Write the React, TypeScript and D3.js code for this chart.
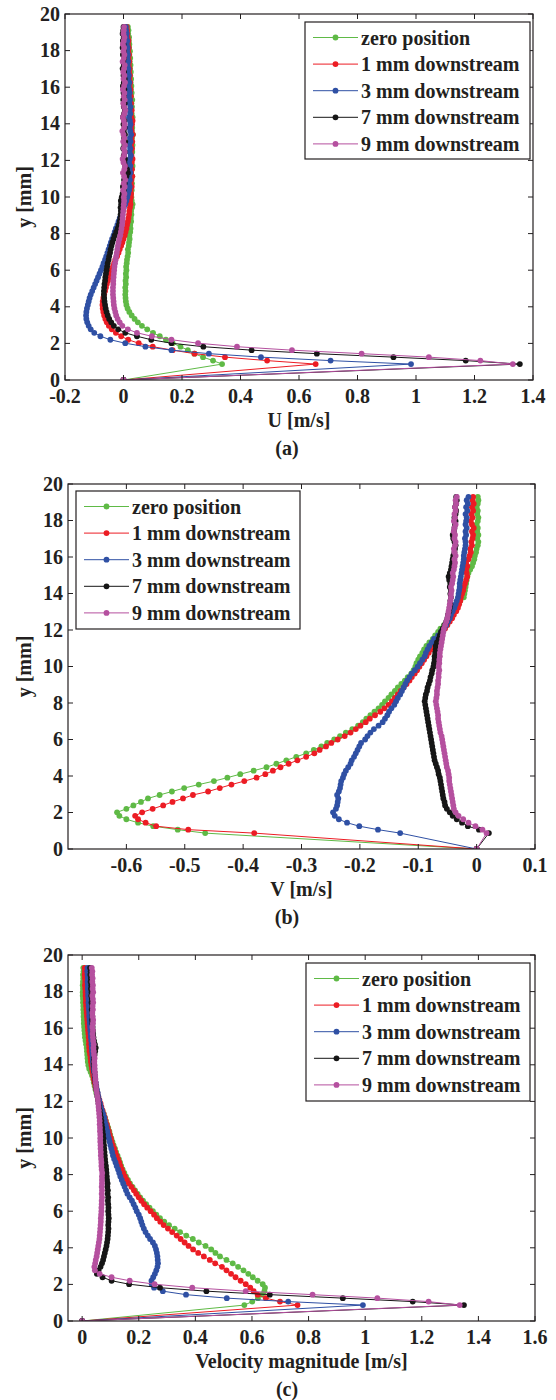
import * as d3 from "d3";

// wall-normal positions (mm), shared by every profile
const Y_MM = [0,
  0.87, 1.06, 1.25, 1.44, 1.63, 1.82, 2.01, 2.2, 2.39, 2.58,
  2.77, 2.96, 3.15, 3.34, 3.53, 3.72, 3.91, 4.1, 4.29, 4.48,
  4.67, 4.86, 5.05, 5.24, 5.43, 5.62, 5.81, 6.0, 6.19, 6.38,
  6.57, 6.76, 6.95, 7.14, 7.33, 7.52, 7.71, 7.9, 8.09, 8.28,
  8.47, 8.66, 8.85, 9.04, 9.23, 9.42, 9.61, 9.8, 9.99, 10.18,
  10.37, 10.56, 10.75, 10.94, 11.13, 11.32, 11.51, 11.7, 11.89, 12.08,
  12.27, 12.46, 12.65, 12.84, 13.03, 13.22, 13.41, 13.6, 13.79, 13.98,
  14.17, 14.36, 14.55, 14.74, 14.93, 15.12, 15.31, 15.5, 15.69, 15.88,
  16.07, 16.26, 16.45, 16.64, 16.83, 17.02, 17.21, 17.4, 17.59, 17.78,
  17.97, 18.16, 18.35, 18.54, 18.73, 18.92, 19.11, 19.3];

const SERIES_NAMES = ["zero position", "1 mm downstream", "3 mm downstream", "7 mm downstream", "9 mm downstream"];
const COLORS = ["#5fba46", "#ec1c24", "#2f50a4", "#161616", "#b5509f"];

const U_TICKS = [-0.2, 0, 0.2, 0.4, 0.6, 0.8, 1, 1.2, 1.4];
const V_TICKS = [-0.6, -0.5, -0.4, -0.3, -0.2, -0.1, 0, 0.1];
const MAG_TICKS = [0, 0.2, 0.4, 0.6, 0.8, 1, 1.2, 1.4, 1.6];
const Y_TICKS = [0, 2, 4, 6, 8, 10, 12, 14, 16, 18, 20];

// (a) U [m/s]
const U_ZERO = [0,
  0.337, 0.306, 0.272, 0.242, 0.220, 0.195, 0.168, 0.145, 0.124, 0.101,
  0.081, 0.063, 0.049, 0.038, 0.028, 0.020, 0.014, 0.010, 0.008, 0.007,
  0.006, 0.007, 0.006, 0.008, 0.007, 0.009, 0.008, 0.010, 0.009, 0.011,
  0.012, 0.014, 0.016, 0.015, 0.018, 0.019, 0.021, 0.020, 0.023, 0.024,
  0.023, 0.026, 0.025, 0.027, 0.026, 0.029, 0.031, 0.028, 0.027,
  0.026, 0.028, 0.025, 0.029, 0.027, 0.030, 0.026, 0.028, 0.031, 0.027,
  0.029, 0.026, 0.030, 0.028, 0.031, 0.027, 0.029, 0.032, 0.028, 0.030,
  0.027, 0.029, 0.031, 0.028, 0.026, 0.029, 0.027, 0.030, 0.026, 0.028,
  0.025, 0.027, 0.024, 0.026, 0.023, 0.025, 0.022, 0.024, 0.021, 0.023,
  0.020, 0.022, 0.019, 0.020, 0.018, 0.019, 0.016, 0.017, 0.015];
const U_1MM = [0,
  0.657, 0.491, 0.347, 0.243, 0.168, 0.100, 0.052, 0.016, -0.008, -0.026,
  -0.040, -0.050, -0.057, -0.062, -0.066, -0.069, -0.071, -0.072, -0.071, -0.069,
  -0.066, -0.063, -0.060, -0.057, -0.053, -0.049, -0.045, -0.041, -0.036, -0.032,
  -0.028, -0.022, -0.017, -0.013, -0.008, -0.004, 0.000, 0.004, 0.007, 0.010,
  0.012, 0.015, 0.017, 0.019, 0.020, 0.022, 0.024, 0.023, 0.025,
  0.026, 0.024, 0.028, 0.025, 0.027, 0.030, 0.026, 0.029, 0.025, 0.028,
  0.031, 0.027, 0.025, 0.029, 0.026, 0.030, 0.027, 0.032, 0.028, 0.026,
  0.029, 0.031, 0.027, 0.025, 0.028, 0.024, 0.026, 0.023, 0.025, 0.022,
  0.024, 0.021, 0.023, 0.020, 0.022, 0.019, 0.021, 0.018, 0.020, 0.017,
  0.019, 0.016, 0.018, 0.015, 0.017, 0.014, 0.013, 0.012, 0.011];
const U_3MM = [0,
  0.983, 0.708, 0.470, 0.292, 0.164, 0.075, 0.006, -0.045, -0.079, -0.100,
  -0.112, -0.119, -0.124, -0.127, -0.128, -0.127, -0.125, -0.122, -0.119, -0.116,
  -0.112, -0.107, -0.102, -0.097, -0.092, -0.087, -0.082, -0.077, -0.072, -0.068,
  -0.063, -0.059, -0.055, -0.051, -0.047, -0.043, -0.039, -0.034, -0.030, -0.026,
  -0.021, -0.017, -0.013, -0.008, -0.004, 0.001, 0.006, 0.010, 0.013,
  0.016, 0.019, 0.021, 0.018, 0.022, 0.020, 0.024, 0.021, 0.023, 0.019,
  0.022, 0.025, 0.021, 0.023, 0.020, 0.024, 0.022, 0.026, 0.023, 0.021,
  0.024, 0.022, 0.019, 0.023, 0.021, 0.024, 0.020, 0.022, 0.018, 0.021,
  0.019, 0.017, 0.020, 0.016, 0.018, 0.015, 0.017, 0.014, 0.016, 0.013,
  0.015, 0.012, 0.014, 0.011, 0.013, 0.010, 0.011, 0.009, 0.008];
const U_7MM = [0,
  1.355, 1.170, 0.923, 0.661, 0.438, 0.273, 0.164, 0.095, 0.046, 0.006,
  -0.018, -0.033, -0.042, -0.049, -0.054, -0.058, -0.061, -0.063, -0.065, -0.066,
  -0.067, -0.067, -0.066, -0.065, -0.063, -0.062, -0.060, -0.058, -0.056, -0.054,
  -0.051, -0.049, -0.046, -0.044, -0.041, -0.038, -0.034, -0.030, -0.025, -0.020,
  -0.016, -0.013, -0.011, -0.010, -0.009, -0.010, -0.008, -0.009, -0.006,
  -0.003, 0.001, -0.002, 0.004, 0.002, 0.010, 0.015, 0.012, 0.006, 0.003,
  0.005, 0.001, 0.004, -0.001, 0.003, 0.006, 0.002, 0.005, 0.001, 0.004,
  0.000, 0.003, -0.002, 0.002, 0.005, 0.001, 0.004, -0.001, 0.002, 0.000,
  0.003, -0.002, 0.001, 0.004, 0.000, 0.002, -0.003, 0.001, -0.001, 0.002,
  -0.002, 0.001, -0.003, 0.000, -0.002, 0.001, -0.003, -0.001, 0.000];
const U_9MM = [0,
  1.331, 1.220, 1.044, 0.814, 0.576, 0.388, 0.255, 0.164, 0.097, 0.046,
  0.015, -0.004, -0.013, -0.020, -0.025, -0.028, -0.031, -0.033, -0.034, -0.035,
  -0.036, -0.036, -0.036, -0.035, -0.035, -0.034, -0.033, -0.032, -0.031, -0.029,
  -0.027, -0.025, -0.023, -0.021, -0.019, -0.017, -0.014, -0.011, -0.009, -0.007,
  -0.005, -0.004, -0.003, -0.002, -0.001, 0.000, 0.001, 0.002, 0.001,
  0.003, -0.001, 0.004, 0.001, 0.006, 0.002, -0.002, 0.003, 0.005, 0.000,
  -0.003, 0.002, 0.004, 0.001, 0.005, -0.001, 0.003, 0.000, -0.004, 0.002,
  0.004, 0.001, -0.002, 0.003, 0.006, 0.002, -0.001, 0.004, 0.001, 0.003,
  -0.002, 0.002, 0.005, 0.000, 0.003, -0.001, 0.002, 0.004, -0.003, 0.001,
  0.003, 0.000, 0.002, -0.002, 0.001, 0.003, 0.000, 0.001, 0.002];

// (b) V [m/s]
const V_ZERO = [0,
  -0.465, -0.512, -0.554, -0.580, -0.600, -0.612, -0.616, -0.600, -0.588, -0.575,
  -0.563, -0.543, -0.522, -0.501, -0.476, -0.450, -0.427, -0.405, -0.382, -0.360,
  -0.343, -0.326, -0.309, -0.292, -0.279, -0.266, -0.256, -0.244, -0.234, -0.224,
  -0.213, -0.203, -0.195, -0.189, -0.182, -0.175, -0.168, -0.162, -0.157, -0.151,
  -0.146, -0.140, -0.135, -0.129, -0.123, -0.118, -0.112, -0.108, -0.105, -0.103,
  -0.100, -0.097, -0.093, -0.090, -0.086, -0.081, -0.075, -0.071, -0.066, -0.062,
  -0.056, -0.048, -0.045, -0.042, -0.040, -0.038, -0.034, -0.028, -0.022, -0.021,
  -0.020, -0.019, -0.018, -0.017, -0.016, -0.014, -0.011, -0.008, -0.006, -0.004,
  -0.003, -0.001, 0.000, 0.002, 0.003, 0.001, 0.003, 0.001, 0.002, 0.000,
  0.002, 0.003, 0.001, 0.002, 0.000, 0.002, 0.003, 0.002];
const V_1MM = [0,
  -0.381, -0.494, -0.549, -0.567, -0.580, -0.585, -0.573, -0.555, -0.537, -0.521,
  -0.503, -0.486, -0.460, -0.440, -0.420, -0.398, -0.377, -0.362, -0.349, -0.336,
  -0.322, -0.307, -0.292, -0.278, -0.269, -0.258, -0.249, -0.238, -0.226, -0.216,
  -0.207, -0.199, -0.190, -0.183, -0.174, -0.165, -0.158, -0.151, -0.145, -0.140,
  -0.135, -0.130, -0.125, -0.120, -0.115, -0.111, -0.106, -0.102, -0.098, -0.094,
  -0.090, -0.086, -0.082, -0.078, -0.075, -0.071, -0.067, -0.063, -0.059, -0.054,
  -0.050, -0.046, -0.042, -0.039, -0.035, -0.032, -0.030, -0.028, -0.027, -0.025,
  -0.023, -0.022, -0.020, -0.018, -0.016, -0.017, -0.018, -0.016, -0.018, -0.014,
  -0.012, -0.010, -0.011, -0.008, -0.009, -0.007, -0.006, -0.008, -0.005, -0.008,
  -0.010, -0.007, -0.009, -0.006, -0.008, -0.005, -0.007, -0.006];
const V_3MM = [0,
  -0.131, -0.169, -0.201, -0.222, -0.236, -0.243, -0.246, -0.241, -0.239, -0.238,
  -0.237, -0.239, -0.236, -0.234, -0.233, -0.232, -0.229, -0.227, -0.224, -0.220,
  -0.216, -0.214, -0.210, -0.207, -0.204, -0.201, -0.198, -0.191, -0.187, -0.182,
  -0.176, -0.168, -0.161, -0.157, -0.153, -0.150, -0.146, -0.141, -0.138, -0.135,
  -0.131, -0.128, -0.125, -0.122, -0.119, -0.115, -0.111, -0.106, -0.101, -0.097,
  -0.093, -0.089, -0.087, -0.084, -0.081, -0.077, -0.073, -0.066, -0.061, -0.056,
  -0.052, -0.049, -0.046, -0.044, -0.041, -0.038, -0.036, -0.034, -0.032, -0.031,
  -0.030, -0.029, -0.029, -0.028, -0.027, -0.026, -0.025, -0.024, -0.023, -0.022,
  -0.022, -0.021, -0.020, -0.019, -0.019, -0.020, -0.018, -0.019, -0.017, -0.019,
  -0.018, -0.017, -0.019, -0.016, -0.018, -0.015, -0.017, -0.014];
const V_7MM = [0,
  0.021, 0.004, -0.015, -0.025, -0.034, -0.041, -0.046, -0.051, -0.054, -0.055,
  -0.057, -0.058, -0.059, -0.060, -0.061, -0.062, -0.063, -0.065, -0.066, -0.068,
  -0.070, -0.072, -0.073, -0.074, -0.075, -0.076, -0.077, -0.078, -0.079, -0.080,
  -0.081, -0.082, -0.083, -0.084, -0.085, -0.086, -0.087, -0.088, -0.089, -0.088,
  -0.087, -0.085, -0.084, -0.082, -0.080, -0.079, -0.077, -0.076, -0.074, -0.073,
  -0.072, -0.072, -0.071, -0.070, -0.070, -0.068, -0.065, -0.063, -0.061, -0.058,
  -0.055, -0.052, -0.050, -0.049, -0.047, -0.046, -0.045, -0.045, -0.044, -0.045,
  -0.044, -0.046, -0.045, -0.047, -0.048, -0.046, -0.044, -0.043, -0.042, -0.041,
  -0.040, -0.038, -0.037, -0.036, -0.038, -0.040, -0.041, -0.039, -0.038, -0.037,
  -0.036, -0.038, -0.036, -0.035, -0.037, -0.035, -0.034, -0.035];
const V_9MM = [0,
  0.017, 0.010, -0.002, -0.014, -0.023, -0.031, -0.036, -0.039, -0.040, -0.041,
  -0.042, -0.043, -0.044, -0.045, -0.046, -0.047, -0.047, -0.048, -0.049, -0.051,
  -0.052, -0.053, -0.054, -0.055, -0.056, -0.057, -0.058, -0.059, -0.060, -0.062,
  -0.063, -0.064, -0.065, -0.066, -0.066, -0.067, -0.068, -0.069, -0.070, -0.069,
  -0.068, -0.068, -0.067, -0.066, -0.066, -0.065, -0.065, -0.064, -0.065, -0.064,
  -0.064, -0.063, -0.063, -0.062, -0.061, -0.060, -0.059, -0.058, -0.057, -0.056,
  -0.054, -0.052, -0.050, -0.049, -0.048, -0.047, -0.046, -0.045, -0.044, -0.044,
  -0.043, -0.044, -0.042, -0.041, -0.040, -0.041, -0.039, -0.038, -0.037, -0.038,
  -0.036, -0.038, -0.039, -0.037, -0.036, -0.038, -0.037, -0.039, -0.038, -0.036,
  -0.039, -0.037, -0.038, -0.036, -0.037, -0.035, -0.036, -0.034];

// (c) velocity magnitude [m/s]
const MAG_ZERO = [0,
  0.573, 0.601, 0.621, 0.635, 0.644, 0.646, 0.638, 0.620, 0.603, 0.587,
  0.570, 0.551, 0.532, 0.510, 0.487, 0.471, 0.456, 0.436, 0.412, 0.391,
  0.368, 0.346, 0.327, 0.307, 0.290, 0.275, 0.262, 0.250, 0.238, 0.226,
  0.215, 0.205, 0.196, 0.187, 0.178, 0.169, 0.162, 0.155, 0.149, 0.143,
  0.138, 0.134, 0.130, 0.125, 0.120, 0.116, 0.111, 0.107, 0.103, 0.099,
  0.096, 0.092, 0.088, 0.084, 0.080, 0.076, 0.071, 0.067, 0.063, 0.059,
  0.055, 0.050, 0.047, 0.044, 0.041, 0.039, 0.035, 0.030, 0.025, 0.022,
  0.020, 0.019, 0.018, 0.017, 0.016, 0.014, 0.012, 0.010, 0.009, 0.008,
  0.007, 0.006, 0.006, 0.005, 0.005, 0.004, 0.004, 0.003, 0.003, 0.002,
  0.002, 0.003, 0.002, 0.003, 0.004, 0.003, 0.005, 0.004];
const MAG_1MM = [0,
  0.761, 0.699, 0.649, 0.620, 0.606, 0.594, 0.578, 0.560, 0.542, 0.526,
  0.510, 0.494, 0.470, 0.451, 0.430, 0.410, 0.392, 0.376, 0.362, 0.348,
  0.334, 0.318, 0.303, 0.288, 0.276, 0.264, 0.254, 0.242, 0.230, 0.219,
  0.209, 0.200, 0.191, 0.183, 0.174, 0.165, 0.158, 0.151, 0.145, 0.140,
  0.135, 0.131, 0.127, 0.122, 0.117, 0.113, 0.108, 0.104, 0.101, 0.097,
  0.094, 0.090, 0.087, 0.083, 0.080, 0.076, 0.072, 0.068, 0.065, 0.061,
  0.057, 0.054, 0.050, 0.047, 0.044, 0.041, 0.039, 0.037, 0.035, 0.033,
  0.031, 0.030, 0.028, 0.026, 0.025, 0.024, 0.024, 0.023, 0.022, 0.021,
  0.020, 0.019, 0.018, 0.017, 0.016, 0.015, 0.014, 0.013, 0.013, 0.012,
  0.012, 0.011, 0.010, 0.011, 0.010, 0.009, 0.010, 0.009];
const MAG_3MM = [0,
  0.992, 0.728, 0.511, 0.367, 0.285, 0.254, 0.246, 0.245, 0.251, 0.257,
  0.262, 0.266, 0.268, 0.267, 0.266, 0.264, 0.261, 0.257, 0.250, 0.240,
  0.232, 0.224, 0.218, 0.213, 0.209, 0.205, 0.200, 0.193, 0.188, 0.182,
  0.176, 0.168, 0.160, 0.155, 0.150, 0.145, 0.140, 0.135, 0.131, 0.127,
  0.122, 0.118, 0.113, 0.109, 0.106, 0.103, 0.100, 0.097, 0.094, 0.091,
  0.089, 0.086, 0.083, 0.080, 0.078, 0.074, 0.070, 0.066, 0.063, 0.060,
  0.057, 0.055, 0.052, 0.050, 0.048, 0.046, 0.044, 0.042, 0.040, 0.039,
  0.038, 0.037, 0.036, 0.035, 0.034, 0.033, 0.032, 0.031, 0.030, 0.029,
  0.028, 0.027, 0.026, 0.025, 0.025, 0.024, 0.023, 0.022, 0.022, 0.021,
  0.021, 0.020, 0.020, 0.019, 0.020, 0.019, 0.018, 0.019];
const MAG_7MM = [0,
  1.349, 1.168, 0.921, 0.663, 0.439, 0.275, 0.166, 0.104, 0.072, 0.052,
  0.058, 0.065, 0.070, 0.074, 0.077, 0.080, 0.083, 0.086, 0.088, 0.090,
  0.091, 0.092, 0.093, 0.092, 0.093, 0.094, 0.093, 0.092, 0.093, 0.092,
  0.091, 0.092, 0.090, 0.091, 0.089, 0.090, 0.088, 0.087, 0.086, 0.085,
  0.084, 0.082, 0.081, 0.080, 0.079, 0.078, 0.077, 0.076, 0.075, 0.074,
  0.072, 0.071, 0.069, 0.068, 0.066, 0.064, 0.062, 0.060, 0.058, 0.056,
  0.054, 0.052, 0.050, 0.049, 0.047, 0.046, 0.045, 0.044, 0.043, 0.042,
  0.041, 0.042, 0.044, 0.046, 0.048, 0.045, 0.042, 0.040, 0.039, 0.038,
  0.037, 0.036, 0.035, 0.036, 0.035, 0.034, 0.035, 0.033, 0.034, 0.032,
  0.033, 0.031, 0.032, 0.030, 0.031, 0.029, 0.030, 0.028];
const MAG_9MM = [0,
  1.334, 1.224, 1.043, 0.814, 0.578, 0.389, 0.256, 0.168, 0.104, 0.062,
  0.045, 0.043, 0.046, 0.048, 0.051, 0.053, 0.055, 0.057, 0.059, 0.061,
  0.062, 0.063, 0.064, 0.065, 0.066, 0.066, 0.067, 0.068, 0.068, 0.069,
  0.069, 0.070, 0.069, 0.070, 0.069, 0.070, 0.070, 0.070, 0.071, 0.069,
  0.068, 0.068, 0.067, 0.066, 0.066, 0.065, 0.065, 0.064, 0.064, 0.064,
  0.063, 0.063, 0.062, 0.062, 0.061, 0.060, 0.059, 0.058, 0.057, 0.056,
  0.054, 0.052, 0.050, 0.049, 0.048, 0.047, 0.046, 0.045, 0.044, 0.044,
  0.043, 0.044, 0.042, 0.041, 0.040, 0.041, 0.039, 0.038, 0.037, 0.038,
  0.036, 0.038, 0.039, 0.037, 0.036, 0.038, 0.037, 0.039, 0.038, 0.036,
  0.039, 0.037, 0.038, 0.036, 0.037, 0.035, 0.036, 0.034];

const FONT = "'Liberation Serif', 'Times New Roman', Times, serif";
const INK = "#231f20";
const TICK = 5;

const fmt = (v: number) => String(+v.toFixed(2));

type Box = { left: number; right: number; top: number; bottom: number };

function Panel({ series, xDomain, box, xTicks, xLabel, caption, legend }: {
  series: number[][];
  xDomain: [number, number];
  box: Box;
  xTicks: number[];
  xLabel: string;
  caption: string;
  legend: { x: number; y: number; w: number; h: number };
}) {
  const x = d3.scaleLinear().domain(xDomain).range([box.left, box.right]);
  const y = d3.scaleLinear().domain([0, 20]).range([box.bottom, box.top]);
  const line = d3
    .line<number>()
    .x((d) => x(d))
    .y((_, i) => y(Y_MM[i]));
  const midX = (box.left + box.right) / 2;
  const midY = (box.top + box.bottom) / 2;
  const clipId = `clip-${caption.replace(/[()]/g, "")}`;

  return (
    <g fontFamily={FONT} fontWeight="bold" fill={INK}>
      <defs>
        <clipPath id={clipId}>
          <rect x={box.left} y={box.top} width={box.right - box.left} height={box.bottom - box.top} />
        </clipPath>
      </defs>

      {/* curves */}
      <g clipPath={`url(#${clipId})`}>
        {series.map((s, k) => (
          <g key={k}>
            <path d={line(s) || ""} fill="none" stroke={COLORS[k]} strokeWidth={1} />
            {s.map((v, i) => (
              <circle key={i} cx={x(v)} cy={y(Y_MM[i])} r={2.9} fill={COLORS[k]} />
            ))}
          </g>
        ))}
      </g>

      {/* frame and inward ticks */}
      <rect x={box.left} y={box.top} width={box.right - box.left} height={box.bottom - box.top}
        fill="none" stroke={INK} strokeWidth={1.2} />
      {xTicks.map((t) => (
        <g key={t} stroke={INK} strokeWidth={1}>
          <line x1={x(t)} x2={x(t)} y1={box.bottom} y2={box.bottom - TICK} />
          <line x1={x(t)} x2={x(t)} y1={box.top} y2={box.top + TICK} />
        </g>
      ))}
      {Y_TICKS.map((t) => (
        <g key={t} stroke={INK} strokeWidth={1}>
          <line x1={box.left} x2={box.left + TICK} y1={y(t)} y2={y(t)} />
          <line x1={box.right} x2={box.right - TICK} y1={y(t)} y2={y(t)} />
        </g>
      ))}

      {/* tick labels */}
      {xTicks.map((t) => (
        <text key={t} x={x(t)} y={box.bottom + 23} textAnchor="middle" fontSize={20}>
          {fmt(t)}
        </text>
      ))}
      {Y_TICKS.map((t) => (
        <text key={t} x={box.left - 5} y={y(t) + 6.5} textAnchor="end" fontSize={20}>
          {t}
        </text>
      ))}

      {/* axis titles */}
      <text x={midX} y={box.bottom + 47} textAnchor="middle" fontSize={20}>{xLabel}</text>
      <text transform={`translate(31,${midY}) rotate(-90)`} textAnchor="middle" fontSize={20}>y [mm]</text>
      <text x={287} y={box.bottom + 75} textAnchor="middle" fontSize={20}>{caption}</text>

      {/* legend */}
      <rect x={legend.x} y={legend.y} width={legend.w} height={legend.h} fill="#fff" stroke={INK} strokeWidth={1.2} />
      {SERIES_NAMES.map((name, k) => {
        const ry = legend.y + 15.5 + k * 26.6;
        return (
          <g key={name}>
            <line x1={legend.x + 8} x2={legend.x + 53} y1={ry} y2={ry} stroke={COLORS[k]} strokeWidth={1} />
            <circle cx={legend.x + 30.5} cy={ry} r={2.9} fill={COLORS[k]} />
            <text x={legend.x + 56} y={ry + 7} fontSize={20}>{name}</text>
          </g>
        );
      })}
    </g>
  );
}

export default function App() {
  return (
    <div style={{ position: "absolute", left: 0, top: 0, background: "#fff" }}>
      <svg width={556} height={1400} viewBox="0 0 556 1400">
        <rect width={556} height={1400} fill="#fff" />
        <Panel
          series={[U_ZERO, U_1MM, U_3MM, U_7MM, U_9MM]}
          xDomain={[-0.2, 1.4]}
          box={{ left: 65, right: 533, top: 14, bottom: 380 }}
          xTicks={U_TICKS}
          xLabel="U [m/s]"
          caption="(a)"
          legend={{ x: 305, y: 22, w: 225, h: 137 }}
        />
        <Panel
          series={[V_ZERO, V_1MM, V_3MM, V_7MM, V_9MM]}
          xDomain={[-0.7, 0.1]}
          box={{ left: 68, right: 535, top: 484, bottom: 849 }}
          xTicks={V_TICKS}
          xLabel="V [m/s]"
          caption="(b)"
          legend={{ x: 76, y: 491, w: 224, h: 138 }}
        />
        <Panel
          series={[MAG_ZERO, MAG_1MM, MAG_3MM, MAG_7MM, MAG_9MM]}
          xDomain={[-0.05, 1.6]}
          box={{ left: 68, right: 535, top: 955, bottom: 1321 }}
          xTicks={MAG_TICKS}
          xLabel="Velocity magnitude [m/s]"
          caption="(c)"
          legend={{ x: 306, y: 963, w: 224, h: 138 }}
        />
      </svg>
    </div>
  );
}
